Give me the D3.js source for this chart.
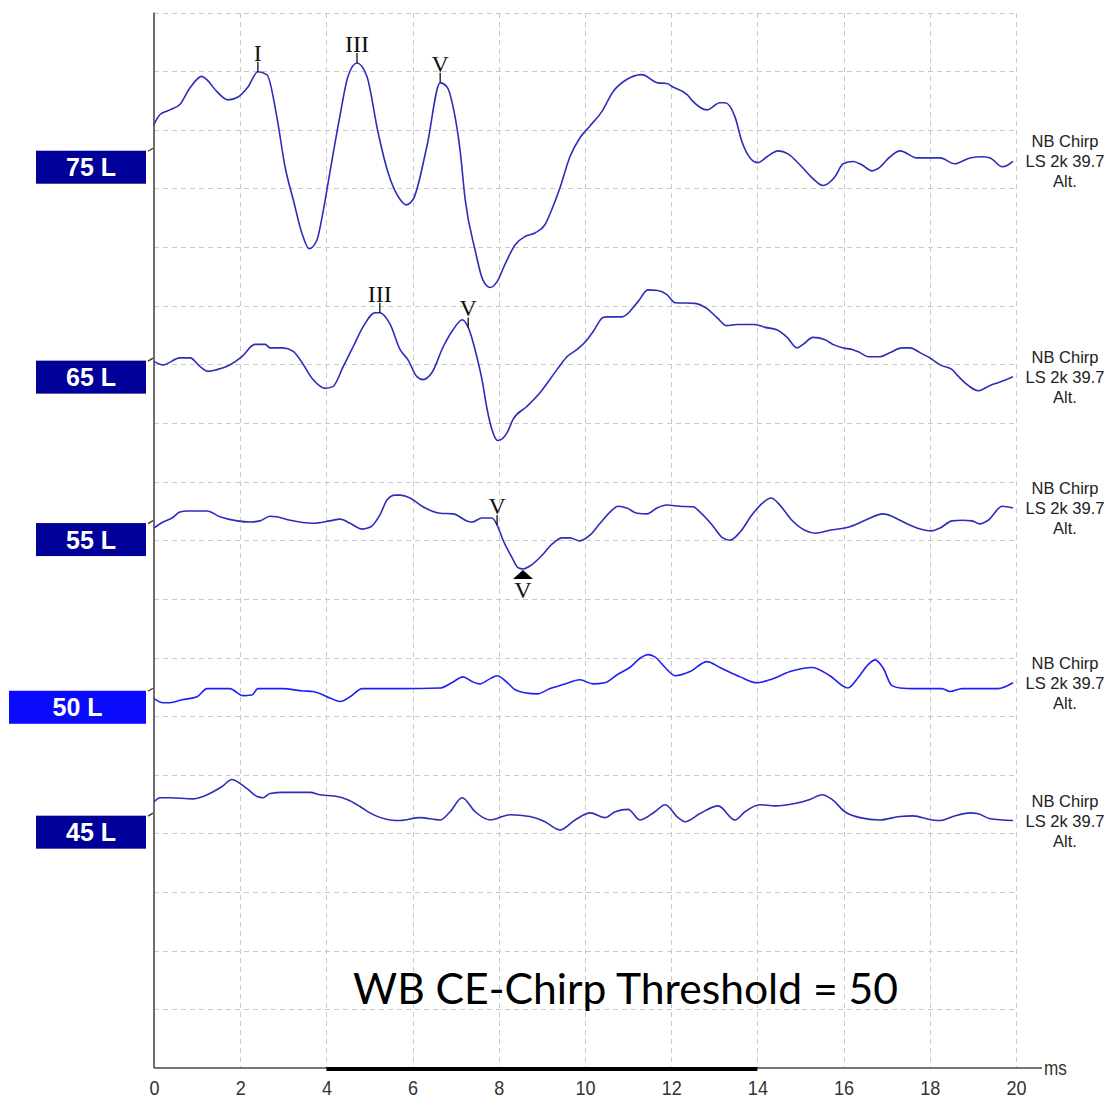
<!DOCTYPE html>
<html>
<head>
<meta charset="utf-8">
<script src="https://cdn.jsdelivr.net/npm/d3@7"></script>
<style>
  html, body { margin: 0; padding: 0; background: #fff; }
  svg { display: block; }
</style>
</head>
<body>
<svg id="chart" width="1115" height="1103"></svg>
<script>
// ---- data -------------------------------------------------------------
const xTicks = [0, 2, 4, 6, 8, 10, 12, 14, 16, 18, 20];          // latency, ms
const levels = ["75 L", "65 L", "55 L", "50 L", "45 L"];          // stimulus level
const selectedLevel = "50 L";
const stimulusLines = ["NB Chirp", "LS 2k 39.7", "Alt."];
const thresholdText = "WB CE-Chirp Threshold = 50";
const analysisWindow = [4, 14];                                    // ms

// waveforms: [latency ms, amplitude nV about the trace baseline]
const wave75 = [[0,43],[0.14,60],[0.37,68],[0.60,77],[0.84,106],[1.11,125],[1.23,119],[1.46,99],[1.72,85],[1.95,90],
  [2.18,107],[2.41,133],[2.62,128],[2.85,56],[3.04,-29],[3.23,-85],[3.43,-142],[3.60,-169],[3.78,-154],[3.92,-107],
  [4.08,-39],[4.31,56],[4.50,125],[4.71,148],[4.94,125],[5.20,29],[5.43,-39],[5.71,-85],[5.85,-94],[6.01,-85],
  [6.33,5],[6.64,114],[6.80,107],[6.94,73],[7.10,0],[7.22,-85],[7.45,-171],[7.63,-222],[7.80,-235],[7.96,-225],
  [8.14,-196],[8.38,-162],[8.61,-148],[8.84,-142],[9.07,-128],[9.23,-102],[9.42,-65],[9.65,-12],[9.88,20],[10.12,41],
  [10.39,65],[10.65,99],[10.93,118],[11.32,128],[11.69,114],[11.90,113],[12.04,107],[12.37,94],[12.51,82],[12.83,68],
  [13.13,80],[13.25,80],[13.48,56],[13.64,14],[13.83,-14],[14.01,-22],[14.22,-12],[14.48,-2],[14.71,-7],[14.99,-26],
  [15.27,-48],[15.52,-61],[15.80,-46],[15.99,-24],[16.22,-20],[16.43,-26],[16.66,-36],[16.80,-32],[17.08,-12],[17.31,-2],
  [17.70,-14],[18.24,-14],[18.58,-24],[18.93,-14],[19.21,-12],[19.40,-14],[19.68,-29],[19.79,-27],[19.93,-20]];

const wave65 = [[0,-3],[0.21,-9],[0.60,3],[0.84,3],[1.07,-12],[1.25,-20],[1.46,-17],[1.76,-9],[2.04,5],[2.34,26],
  [2.58,26],[2.69,20],[2.99,20],[3.23,14],[3.39,0],[3.69,-34],[3.97,-49],[4.15,-46],[4.39,-12],[4.62,22],
  [4.85,56],[5.13,80],[5.24,80],[5.48,60],[5.71,17],[5.89,0],[6.10,-29],[6.24,-34],[6.45,-22],[6.71,22],
  [6.94,51],[7.15,68],[7.29,55],[7.49,5],[7.61,-34],[7.73,-85],[7.84,-119],[7.98,-138],[8.19,-125],[8.33,-102],
  [8.65,-80],[8.96,-56],[9.35,-17],[9.58,5],[9.81,17],[10.05,34],[10.19,48],[10.42,72],[10.51,73],[10.86,73],
  [11.23,99],[11.46,119],[11.69,118],[11.90,111],[12.09,97],[12.55,96],[12.83,87],[13.06,72],[13.29,58],[13.53,60],
  [13.94,60],[14.18,55],[14.45,51],[14.69,38],[14.92,20],[15.06,26],[15.29,38],[15.57,34],[15.75,26],[15.99,20],
  [16.22,17],[16.38,12],[16.57,5],[16.84,5],[17.08,12],[17.35,20],[17.54,20],[17.77,12],[18.00,3],[18.24,-9],
  [18.52,-17],[18.63,-26],[18.89,-44],[19.12,-53],[19.40,-44],[19.63,-38],[19.93,-29]];

const wave55 = [[0,-10],[0.21,0],[0.42,7],[0.60,17],[0.77,19],[1.23,19],[1.53,9],[1.93,2],[2.23,0],[2.46,2],
  [2.69,10],[2.85,9],[3.16,3],[3.69,-2],[4.08,2],[4.32,5],[4.55,-2],[4.83,-12],[5.01,-9],[5.24,12],
  [5.41,38],[5.59,46],[5.71,46],[5.94,41],[6.24,26],[6.64,15],[6.94,14],[7.26,2],[7.38,0],[7.61,7],
  [7.84,7],[7.96,-5],[8.10,-31],[8.31,-61],[8.45,-78],[8.56,-80],[8.72,-75],[8.96,-60],[9.26,-36],[9.47,-27],
  [9.65,-27],[9.88,-32],[10.12,-22],[10.35,-2],[10.58,17],[10.77,27],[10.97,24],[11.21,15],[11.44,14],[11.67,24],
  [11.90,29],[12.20,27],[12.51,26],[12.67,17],[12.95,-5],[13.18,-26],[13.36,-31],[13.60,-17],[13.87,12],[14.11,32],
  [14.32,41],[14.52,29],[14.80,3],[15.10,-14],[15.34,-19],[15.68,-14],[16.10,-9],[16.50,3],[16.91,14],[17.12,10],
  [17.31,3],[17.70,-10],[18.05,-15],[18.24,-10],[18.52,2],[18.75,3],[18.98,2],[19.16,-3],[19.35,3],[19.68,27],
  [19.93,24]];

const wave50 = [[0,-15],[0.21,-22],[0.37,-22],[0.65,-17],[1.00,-12],[1.23,2],[1.76,2],[2.06,-10],[2.27,-9],[2.41,2],
  [2.99,2],[3.46,-2],[3.69,-3],[4.08,-14],[4.32,-20],[4.55,-12],[4.83,2],[5.71,2],[6.64,3],[6.91,12],
  [7.17,22],[7.38,14],[7.56,10],[7.80,19],[7.96,24],[8.17,14],[8.38,0],[8.61,-5],[8.89,-7],[9.19,2],
  [9.54,10],[9.88,17],[10.19,10],[10.46,12],[10.77,27],[11.04,38],[11.30,55],[11.46,60],[11.62,56],[11.86,38],
  [12.09,24],[12.44,31],[12.83,48],[13.13,38],[13.60,22],[13.99,12],[14.29,17],[14.76,31],[15.27,38],[15.68,24],
  [16.10,3],[16.33,20],[16.57,43],[16.73,51],[16.91,38],[17.12,7],[17.31,3],[17.61,2],[18.28,2],[18.47,-3],
  [18.75,2],[19.58,2],[19.93,12]];

const wave45 = [[0,22],[0.14,29],[0.37,29],[0.90,27],[1.14,31],[1.37,39],[1.58,48],[1.81,60],[2.00,53],[2.18,43],
  [2.39,31],[2.53,29],[2.69,36],[2.99,38],[3.62,38],[3.85,34],[4.25,31],[4.48,26],[4.78,14],[5.01,3],
  [5.48,-9],[5.71,-10],[6.17,-5],[6.64,-9],[6.87,5],[7.15,29],[7.45,5],[7.80,-9],[8.26,0],[8.72,-3],
  [9.07,-12],[9.42,-26],[9.77,-9],[10.12,3],[10.46,-5],[10.70,5],[11.00,9],[11.28,-9],[11.62,5],[11.86,17],
  [12.16,-5],[12.32,-12],[12.67,2],[13.09,15],[13.48,-9],[13.71,5],[14.06,17],[14.41,15],[14.87,19],[15.22,26],
  [15.50,34],[15.73,26],[16.03,5],[16.38,-5],[16.84,-9],[17.31,-3],[17.61,-2],[18.05,-9],[18.24,-10],[18.54,-3],
  [18.93,3],[19.10,2],[19.40,-7],[19.93,-10]];

// marked peaks (tick above, label above) and troughs (triangle below, label below)
const peaks75 = [["I", 2.41], ["III", 4.71], ["V", 6.64]];
const peaks65 = [["III", 5.24], ["V", 7.29]];
const peaks55 = [["V", 7.96]];
const troughs55 = [["V", 8.56]];

// ---- layout -----------------------------------------------------------
const waves = [wave75, wave65, wave55, wave50, wave45];
const peakSets = [peaks75, peaks65, peaks55, [], []];
const troughSets = [[], [], troughs55, [], []];
const rowBaseline = [1566, 1208, 931, 645, 432];   // nV on the stacked vertical scale

const plotLeft = 154, plotRight = 1016, plotTop = 12.5, plotBottom = 1068;

const x = d3.scaleLinear().domain([0, 20]).range([plotLeft, plotRight]);
const y = d3.scaleLinear().domain([0, 1800]).range([plotBottom, plotTop]);

const svg = d3.select("#chart");

// grid
const grid = svg.append("g")
  .attr("stroke", "#c9c9c9").attr("stroke-width", 1).attr("stroke-dasharray", "5,4")
  .attr("shape-rendering", "crispEdges");
grid.selectAll("line.h").data(d3.range(100, 1801, 100)).join("line")
  .attr("class", "h")
  .attr("x1", plotLeft).attr("x2", plotRight)
  .attr("y1", d => Math.round(y(d)) + 0.5).attr("y2", d => Math.round(y(d)) + 0.5);
grid.selectAll("line.v").data(xTicks.slice(1)).join("line")
  .attr("class", "v")
  .attr("x1", d => Math.round(x(d)) + 0.5).attr("x2", d => Math.round(x(d)) + 0.5)
  .attr("y1", plotTop).attr("y2", plotBottom);

// axes
svg.append("line")
  .attr("x1", plotLeft).attr("x2", plotLeft).attr("y1", plotTop).attr("y2", plotBottom)
  .attr("stroke", "#4a4a4a").attr("stroke-width", 1.6);
svg.append("line")
  .attr("x1", plotLeft).attr("x2", 1042).attr("y1", plotBottom).attr("y2", plotBottom)
  .attr("stroke", "#4a4a4a").attr("stroke-width", 1.6);
svg.append("line")
  .attr("x1", x(analysisWindow[0])).attr("x2", x(analysisWindow[1]))
  .attr("y1", plotBottom + 1).attr("y2", plotBottom + 1)
  .attr("stroke", "#000").attr("stroke-width", 4);

const xAxis = svg.append("g")
  .attr("transform", `translate(0,${plotBottom})`)
  .call(d3.axisBottom(x).tickValues(xTicks).tickSize(0).tickPadding(12).tickFormat(d3.format("d")));
xAxis.select(".domain").remove();
xAxis.selectAll("text")
  .attr("font-family", "'Liberation Sans', Arial, sans-serif")
  .attr("font-size", 21).attr("fill", "#333")
  .attr("transform", "scale(0.86,1)");

svg.append("text")
  .attr("transform", `translate(1044,${plotBottom + 7}) scale(0.86,1)`)
  .attr("font-family", "'Liberation Sans', Arial, sans-serif")
  .attr("font-size", 20).attr("fill", "#333")
  .text("ms");

// traces
const line = d3.line()
  .x(d => x(d[0]))
  .curve(d3.curveMonotoneX);

const serif = "'Liberation Serif', 'Times New Roman', serif";
const sans = "'Liberation Sans', Arial, sans-serif";

waves.forEach((wave, i) => {
  const base = rowBaseline[i];
  const yb = y(base);
  const selected = levels[i] === selectedLevel;
  const g = svg.append("g");

  // baseline marker on the left axis
  g.append("line")
    .attr("x1", plotLeft - 6).attr("y1", yb + 1.5).attr("x2", plotLeft - 1).attr("y2", yb - 1.5)
    .attr("stroke", "#333").attr("stroke-width", 1.3);

  // level box
  const bx = selected ? 9 : 36, bw = 146 - bx;
  g.append("rect")
    .attr("x", bx).attr("y", yb + 1).attr("width", bw).attr("height", 33)
    .attr("fill", selected ? "#0a0aff" : "#000099");
  g.append("text")
    .attr("x", bx + bw / 2).attr("y", yb + 1 + 16.5 + 9)
    .attr("text-anchor", "middle")
    .attr("font-family", sans).attr("font-weight", "bold").attr("font-size", 25)
    .attr("fill", "#fff")
    .text(levels[i]);

  // waveform
  g.append("path")
    .datum(wave)
    .attr("d", line.y(d => y(base + d[1])))
    .attr("fill", "none")
    .attr("stroke", selected ? "#2020f4" : "#2d2db8")
    .attr("stroke-width", 1.6)
    .attr("stroke-linejoin", "round");

  const valueAt = t => wave.find(d => d[0] === t)[1];

  // peak marks
  peakSets[i].forEach(([lab, t]) => {
    const py = y(base + valueAt(t));
    g.append("line")
      .attr("x1", x(t)).attr("x2", x(t)).attr("y1", py).attr("y2", py - 10)
      .attr("stroke", "#111").attr("stroke-width", 1.3);
    g.append("text")
      .attr("x", x(t)).attr("y", py - 11)
      .attr("text-anchor", "middle")
      .attr("font-family", serif).attr("font-size", 24).attr("fill", "#111")
      .text(lab);
  });

  // trough marks
  troughSets[i].forEach(([lab, t]) => {
    const py = y(base + valueAt(t));
    const cx = x(t);
    g.append("path")
      .attr("d", `M${cx},${py + 1}L${cx + 10},${py + 10}L${cx - 10},${py + 10}Z`)
      .attr("fill", "#000");
    g.append("text")
      .attr("x", cx).attr("y", py + 29)
      .attr("text-anchor", "middle")
      .attr("font-family", serif).attr("font-size", 24).attr("fill", "#111")
      .text(lab);
  });

  // stimulus description at the end of the trace
  const yEnd = y(base + wave[wave.length - 1][1]);
  stimulusLines.forEach((s, k) => {
    g.append("text")
      .attr("x", 1065).attr("y", yEnd - 14 + k * 20)
      .attr("text-anchor", "middle")
      .attr("font-family", sans).attr("font-size", 16.5).attr("fill", "#222")
      .text(s);
  });
});

// threshold note
svg.append("text")
  .attr("x", 353).attr("y", 1004)
  .attr("font-family", "Lato, 'Open Sans', sans-serif")
  .attr("font-size", 43).attr("fill", "#000")
  .attr("textLength", 545).attr("lengthAdjust", "spacingAndGlyphs")
  .text(thresholdText);
</script>
</body>
</html>
